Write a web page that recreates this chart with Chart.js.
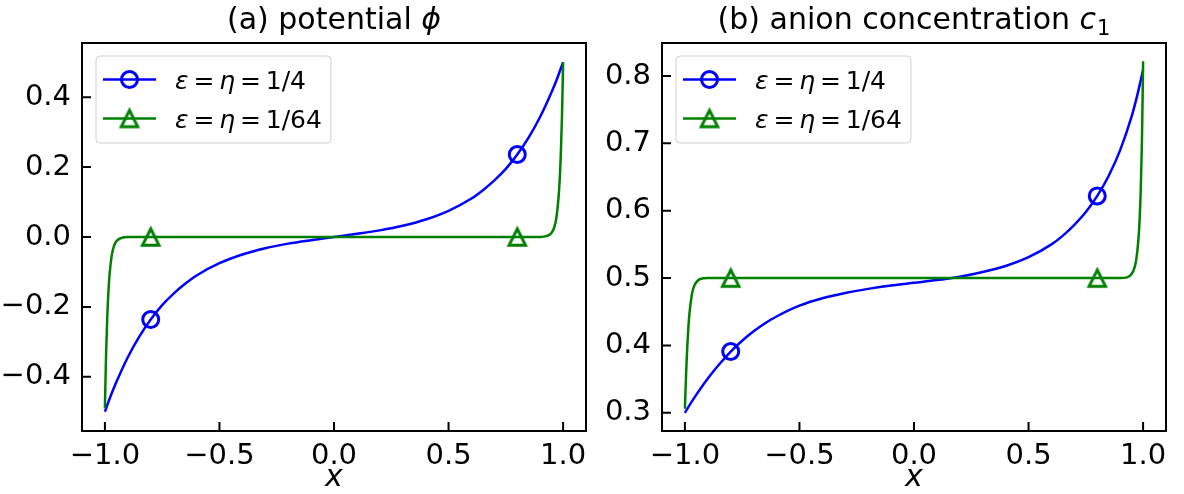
<!DOCTYPE html>
<html>
<head>
<meta charset="utf-8">
<script src="https://cdn.jsdelivr.net/npm/chart.js@4.4.0/dist/chart.umd.min.js"></script>
<style>
html, body { margin:0; padding:0; background:#fff; }
#caja { position:relative; width:1184px; height:494px; }
.panel { position:absolute; top:0; width:592px; height:494px; }
</style>
</head>
<body>
<div id="caja">
  <div class="panel" style="left:0"><canvas id="graficaA" width="592" height="494"></canvas></div>
  <div class="panel" style="left:592px"><canvas id="graficaB" width="592" height="494"></canvas></div>
</div>
<script>
// datos
var xAzul = [-1, -0.975, -0.95, -0.9, -0.85, -0.8, -0.75, -0.7, -0.65, -0.6, -0.5, -0.4, -0.3, -0.2, -0.1, 0,
             0.1, 0.2, 0.3, 0.4, 0.5, 0.6, 0.65, 0.7, 0.75, 0.8, 0.85, 0.9, 0.95, 0.975, 1];
var potAzul = [-0.5, -0.455, -0.415, -0.344, -0.285, -0.236, -0.195, -0.162, -0.134, -0.110, -0.075, -0.050, -0.032, -0.019, -0.009, 0,
               0.009, 0.019, 0.032, 0.050, 0.075, 0.110, 0.134, 0.162, 0.195, 0.236, 0.285, 0.344, 0.415, 0.455, 0.5];
var concAzul = [0.300, 0.314, 0.327, 0.351, 0.372, 0.391, 0.407, 0.421, 0.433, 0.443, 0.459, 0.470, 0.478, 0.484, 0.489, 0.493,
                0.497, 0.502, 0.509, 0.518, 0.531, 0.550, 0.563, 0.579, 0.598, 0.622, 0.652, 0.690, 0.740, 0.772, 0.809];

var xVerde = [-1, -0.998, -0.995, -0.99, -0.985, -0.98, -0.97, -0.96, -0.95, -0.93, -0.9, -0.8, 0,
              0.8, 0.9, 0.93, 0.95, 0.96, 0.97, 0.98, 0.985, 0.99, 0.995, 0.998, 1];
var potVerde = [-0.49, -0.425, -0.34, -0.234, -0.161, -0.11, -0.052, -0.025, -0.012, -0.003, 0, 0, 0,
                0, 0, 0.003, 0.012, 0.025, 0.052, 0.111, 0.162, 0.236, 0.343, 0.43, 0.5];
var concVerde = [0.306, 0.327, 0.356, 0.396, 0.426, 0.448, 0.475, 0.488, 0.494, 0.499, 0.5, 0.5, 0.5,
                 0.5, 0.5, 0.501, 0.506, 0.513, 0.527, 0.559, 0.588, 0.633, 0.705, 0.769, 0.822];

var marcasX = [-0.8, 0.8];
var ticksX = [-1, -0.5, 0, 0.5, 1];
var ticksPot = [-0.4, -0.2, 0, 0.2, 0.4];
var ticksConc = [0.3, 0.4, 0.5, 0.6, 0.7, 0.8];
var etiquetas = ['1/4', '1/64'];

var AZUL = '#0000ff';
var VERDE = '#008000';
var FUENTE = 'DejaVu Sans';

function hacerTriangulo(color)
{
  var c = document.createElement('canvas');
  c.width = 32; c.height = 32;
  var g = c.getContext('2d');
  g.strokeStyle = color;
  g.lineWidth = 3;
  g.lineJoin = 'miter';
  g.beginPath();
  g.moveTo(16, 7.8);
  g.lineTo(7.8, 24.2);
  g.lineTo(24.2, 24.2);
  g.closePath();
  g.stroke();
  return c;
}
var triangulo = hacerTriangulo(VERDE);

function puntos(xs, ys)
{
  return xs.map(function(x, i){ return {x: x, y: ys[i]}; });
}

function radioMarca(r)
{
  return function(ctx){
    if (!ctx.raw) return 0;
    return marcasX.indexOf(ctx.raw.x) >= 0 ? r : 0;
  };
}

function escribir(ctx, partes, x, y, centrado)
{
  var total = 0;
  partes.forEach(function(p){
    ctx.font = p.f;
    p.w = ctx.measureText(p.t).width;
    total += p.w + (p.esp || 0);
  });
  if (centrado) x = x - total / 2;
  partes.forEach(function(p){
    ctx.font = p.f;
    ctx.fillText(p.t, x, y + (p.dy || 0));
    x += p.w + (p.esp || 0);
  });
}

var marcoPlugin = {
  id: 'marco',
  afterDraw: function(chart, args, opts)
  {
    var ctx = chart.ctx, a = chart.chartArea;
    var sx = chart.scales.x, sy = chart.scales.y;
    ctx.save();
    ctx.strokeStyle = '#000';
    ctx.lineWidth = 2;
    ctx.beginPath();
    ticksX.forEach(function(v){
      var px = sx.getPixelForValue(v);
      ctx.moveTo(px, a.bottom); ctx.lineTo(px, a.bottom - 9);
    });
    opts.ticksY.forEach(function(v){
      var py = sy.getPixelForValue(v);
      ctx.moveTo(a.left, py); ctx.lineTo(a.left + 9, py);
    });
    ctx.stroke();
    ctx.strokeRect(a.left, a.top, a.right - a.left, a.bottom - a.top);

    // titulo
    ctx.fillStyle = '#000';
    ctx.textBaseline = 'alphabetic';
    ctx.textAlign = 'left';
    escribir(ctx, opts.titulo, (a.left + a.right) / 2, 29, true);

    // leyenda
    var lx = a.left + 14, ly = a.top + 13;
    ctx.fillStyle = 'rgba(255,255,255,0.8)';
    ctx.strokeStyle = '#d0d0d0';
    ctx.lineWidth = 1;
    ctx.beginPath();
    ctx.roundRect(lx, ly, 235, 87, 4);
    ctx.fill();
    ctx.stroke();

    var filas = [a.top + 36.5, a.top + 75.5];
    var colores = [AZUL, VERDE];
    filas.forEach(function(fy, i){
      ctx.strokeStyle = colores[i];
      ctx.lineWidth = 2.5;
      ctx.beginPath();
      ctx.moveTo(a.left + 21, fy); ctx.lineTo(a.left + 74, fy);
      ctx.stroke();
      if (i == 0)
      {
        ctx.lineWidth = 3;
        ctx.beginPath();
        ctx.arc(a.left + 47.5, fy, 8, 0, Math.PI * 2);
        ctx.stroke();
      }
      else
      {
        ctx.drawImage(triangulo, a.left + 47.5 - 16, fy - 16);
      }
      ctx.fillStyle = '#000';
      var esp = 25 * 0.195;
      escribir(ctx, [
        {t: 'ε', f: 'italic 25px ' + FUENTE, esp: esp},
        {t: '=', f: '25px ' + FUENTE, esp: esp},
        {t: 'η', f: 'italic 25px ' + FUENTE, esp: esp},
        {t: '=', f: '25px ' + FUENTE, esp: esp},
        {t: etiquetas[i], f: '25px ' + FUENTE}
      ], a.left + 93, fy + 9, false);
    });
    ctx.restore();
  }
};

function menos(v)
{
  return (Math.abs(v) < 1e-9 ? 0 : v).toFixed(1).replace('-', '\u2212');
}

function crearGrafica(id, yA, yV, yMin, yMax, ticksY, anchoY, derecha, titulo)
{
  return new Chart(document.getElementById(id), {
    type: 'line',
    data: {
      datasets: [
        {
          data: puntos(xAzul, yA),
          borderColor: AZUL, borderWidth: 2.5,
          cubicInterpolationMode: 'monotone',
          pointStyle: 'circle',
          pointRadius: radioMarca(8), pointHoverRadius: radioMarca(8),
          pointBorderColor: AZUL, pointBorderWidth: 3,
          pointBackgroundColor: 'rgba(0,0,0,0)',
          order: 1
        },
        {
          data: puntos(xVerde, yV),
          borderColor: VERDE, borderWidth: 2.5,
          cubicInterpolationMode: 'monotone',
          pointStyle: triangulo,
          pointRadius: radioMarca(8), pointHoverRadius: radioMarca(8),
          pointBorderColor: VERDE, pointBackgroundColor: 'rgba(0,0,0,0)',
          order: 0
        }
      ]
    },
    options: {
      responsive: false,
      animation: false,
      devicePixelRatio: 1,
      layout: { padding: { top: 43, right: derecha, left: 0, bottom: 0 } },
      plugins: {
        legend: { display: false },
        tooltip: { enabled: false },
        marco: { ticksY: ticksY, titulo: titulo }
      },
      scales: {
        x: {
          type: 'linear', min: -1.1, max: 1.1,
          grid: { display: false }, border: { display: false },
          afterBuildTicks: function(s){ s.ticks = ticksX.map(function(v){ return {value: v}; }); },
          afterFit: function(s){ s.height = 63; },
          ticks: {
            color: '#000', padding: 0, maxRotation: 0,
            font: { family: FUENTE, size: 29 },
            callback: function(v){ return menos(v); }
          },
          title: {
            display: true, text: 'x', color: '#000',
            font: { family: FUENTE, size: 30, style: 'italic' },
            padding: { top: 0, bottom: -2 }
          }
        },
        y: {
          type: 'linear', min: yMin, max: yMax,
          grid: { display: false }, border: { display: false },
          afterBuildTicks: function(s){ s.ticks = ticksY.map(function(v){ return {value: v}; }); },
          afterFit: function(s){ s.width = anchoY; },
          ticks: {
            color: '#000', padding: 3,
            font: { family: FUENTE, size: 29 },
            callback: function(v){ return menos(v); }
          }
        }
      }
    },
    plugins: [marcoPlugin]
  });
}

var fT = '30px ' + FUENTE, fTi = 'italic 30px ' + FUENTE;
crearGrafica('graficaA', potAzul, potVerde, -0.555, 0.555, ticksPot, 82, 6,
  [{t: '(a) potential ', f: fT}, {t: 'ϕ', f: fTi}]);
crearGrafica('graficaB', concAzul, concVerde, 0.273, 0.849, ticksConc, 70, 18,
  [{t: '(b) anion concentration ', f: fT}, {t: 'c', f: fTi, esp: 1}, {t: '1', f: '21px ' + FUENTE, dy: 6}]);
</script>
</body>
</html>
